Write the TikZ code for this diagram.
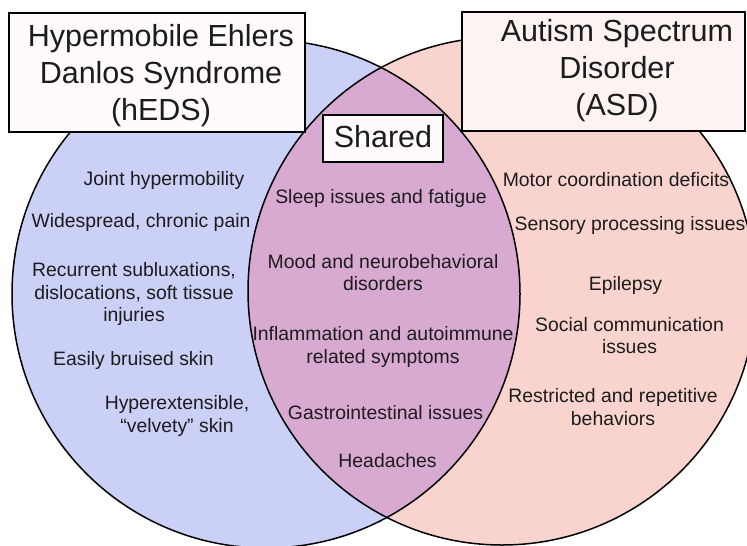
\documentclass[tikz,border=0pt]{standalone}
\usepackage{fontspec}
\setmainfont{Liberation Sans}
\definecolor{hedsfill}{HTML}{CBD0F6}
\definecolor{asdfill}{HTML}{F9D4CF}
\definecolor{sharedfill}{HTML}{D8AAD2}
\definecolor{boxfillA}{HTML}{FFFBFB}
\definecolor{boxfillB}{HTML}{FDF3F2}
\definecolor{ink}{HTML}{1C1C1C}
\begin{document}
\begin{tikzpicture}[x=1pt,y=-1pt,
  body/.style={font=\fontsize{19.4}{22.5}\selectfont, text=ink, align=center, inner sep=0pt},
  titletext/.style={font=\fontsize{30.5}{37}\selectfont, text=ink, align=center, inner sep=0pt},
  titlebox/.style={draw=black, line width=1.4pt, inner sep=0pt},
  ring/.style={draw=black, line width=1.5pt}]
\clip (0,0) rectangle (747,546);
\fill[white] (0,0) rectangle (747,546);
% circles
\coordinate (cl) at (266,294);
\coordinate (cr) at (502,291);
\fill[hedsfill] (cl) circle[radius=254];
\fill[asdfill] (cr) circle[radius=254];
\begin{scope}
  \clip (cl) circle[radius=254];
  \fill[sharedfill] (cr) circle[radius=254];
\end{scope}
\draw[ring] (cl) circle[radius=254];
\draw[ring] (cr) circle[radius=254];
% title boxes
\node[titlebox, fill=boxfillA, minimum width=296, minimum height=119] (hedsbox) at (157,72.5) {};
\node[titletext] (heds) at (161,75.5) {Hypermobile Ehlers\\Danlos Syndrome\\(hEDS)};
\node[titlebox, fill=boxfillB, minimum width=283, minimum height=119] (asdbox) at (603.5,71.5) {};
\node[titletext] (asd) at (617,70.5) {Autism Spectrum\\Disorder\\(ASD)};
\node[titlebox, fill=boxfillA, minimum width=120, minimum height=47] (sharedbox) at (383,138.5) {};
\node[titletext] (shared) at (383,136.5) {Shared};
% hEDS items
\node[body] (h1) at (164,180) {Joint hypermobility};
\node[body] (h2) at (141,222) {Widespread, chronic pain};
\node[body] (h3) at (134,294) {Recurrent subluxations,\\dislocations, soft tissue\\injuries};
\node[body] (h4) at (133.5,360) {Easily bruised skin};
\node[body] (h5) at (177,416) {Hyperextensible,\\“velvety” skin};
% shared items
\node[body] (s1) at (381,198) {Sleep issues and fatigue};
\node[body] (s2) at (383,272.5) {Mood and neurobehavioral\\disorders};
\node[body] (s3) at (383,347) {Inflammation and autoimmune\\related symptoms};
\node[body] (s4) at (385.5,413) {Gastrointestinal issues};
\node[body] (s5) at (387.5,461) {Headaches};
% ASD items
\node[body] (a1) at (616,180) {Motor coordination deficits};
\node[body] (a2) at (630,225) {Sensory processing issues};
\node[body] (a3) at (625.5,285) {Epilepsy};
\node[body] (a4) at (629.5,335.5) {Social communication\\issues};
\node[body] (a5) at (613,407) {Restricted and repetitive\\behaviors};
\end{tikzpicture}
\end{document}
